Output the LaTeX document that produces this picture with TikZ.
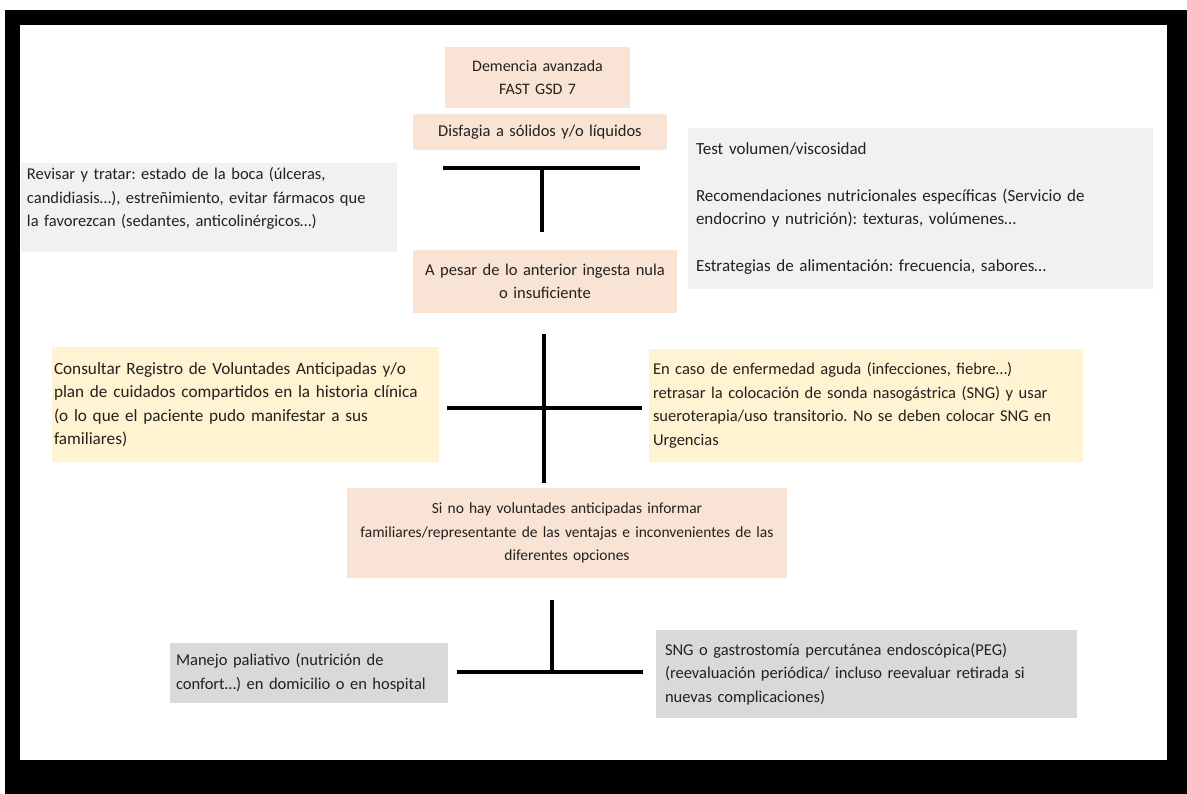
\documentclass[tikz,border=0pt]{standalone}
\usepackage{fontspec}
\setmainfont{Carlito}
\usepackage{tikz}
\usetikzlibrary{positioning,calc}
\definecolor{dmpeach}{HTML}{F9E3D5}
\definecolor{dmyellow}{HTML}{FFF3D1}
\definecolor{dmlight}{HTML}{F1F1F1}
\definecolor{dmgrey}{HTML}{D9D9D9}
\definecolor{dmink}{HTML}{24211F}
\newcommand\dmfs[1]{\fontsize{#1}{23.5}\selectfont}
\frenchspacing

\begin{document}
\begin{tikzpicture}[
  x=1pt,y=-1pt,
  font=\dmfs{16.5},
  base/.style={inner sep=6pt,text=dmink,anchor=center},
  paso/.style={base,fill=dmpeach,align=center},
  nota/.style={base,fill=dmlight,align=left},
  aviso/.style={base,fill=dmyellow,align=left},
  opcion/.style={base,fill=dmgrey,align=left},
  barra/.style={line width=3.6pt,draw=black},
]
\useasboundingbox (0,0) rectangle (1187,794);
\fill[white] (0,0) rectangle (1187,794);
\fill[black] (5,10) rectangle (1187,794);
\fill[white] (20,25) rectangle (1167,760);

\node[paso,font=\dmfs{16},minimum width=185,minimum height=61,text width=173] (dem) at (537.5,77.5)
  {Demencia avanzada\\FAST GSD 7};
\node[paso,minimum width=254,minimum height=36,text width=242] (disf) at (540,132)
  {Disfagia a sólidos y/o líquidos};
\node[nota,inner ysep=3pt,minimum width=376,minimum height=89,text width=364] (revisar) at (209,207.5)
  {Revisar y tratar: estado de la boca (úlceras,\\candidiasis…), estreñimiento, evitar fármacos que\\la favorezcan (sedantes, anticolinérgicos…)\\[-2.5pt]\mbox{}};
\node[nota,font=\dmfs{17},minimum width=465,minimum height=161,text width=449] (test) at (920.5,208.5)
  {Test volumen/viscosidad\\[23.5pt]Recomendaciones nutricionales específicas (Servicio de\\endocrino y nutrición): texturas, volúmenes…\\[23.5pt]Estrategias de alimentación: frecuencia, sabores…};
\node[paso,minimum width=264,minimum height=63,text width=252] (pesar) at (545,281.5)
  {A pesar de lo anterior ingesta nula\\o insuficiente};
\node[aviso,font=\dmfs{17.2},inner xsep=2pt,minimum width=387,minimum height=115,text width=383] (consultar) at (245.5,404.5)
  {Consultar Registro de Voluntades Anticipadas y/o\\plan de cuidados compartidos en la historia clínica\\(o lo que el paciente pudo manifestar a sus\\familiares)};
\node[aviso,inner xsep=4pt,minimum width=434,minimum height=113,text width=426] (aguda) at (866,405.5)
  {En caso de enfermedad aguda (infecciones, fiebre…)\\retrasar la colocación de sonda nasogástrica (SNG) y usar\\sueroterapia/uso transitorio. No se deben colocar SNG en\\Urgencias};
\node[paso,font=\dmfs{15.5},inner xsep=4pt,minimum width=440,minimum height=90,text width=432] (sinvol) at (567,533)
  {Si no hay voluntades anticipadas informar\\familiares/representante de las ventajas e inconvenientes de las\\diferentes opciones};
\node[opcion,minimum width=278,minimum height=60,text width=266] (manejo) at (309,673)
  {Manejo paliativo (nutrición de\\confort…) en domicilio o en hospital};
\node[opcion,inner xsep=9pt,minimum width=421,minimum height=88,text width=403] (sng) at (866.5,674)
  {SNG o gastrostomía percutánea endoscópica(PEG)\\(reevaluación periódica/ incluso reevaluar retirada si\\nuevas complicaciones)};

% barras
\coordinate (b1l) at (443,168);
\coordinate (b1r) at (640,168);
\coordinate (b1m) at (542,168);
\coordinate (b1d) at (542,232);
\draw[barra] (b1l) -- (b1r);
\draw[barra] (b1m) -- (b1d);

\coordinate (b2u) at (544,334);
\coordinate (b2d) at (544,483);
\coordinate (b2l) at (447,408);
\coordinate (b2r) at (642,408);
\draw[barra] (b2u) -- (b2d);
\draw[barra] (b2l) -- (b2r);

\coordinate (b3u) at (552,600);
\coordinate (b3m) at (552,672);
\coordinate (b3l) at (457,672);
\coordinate (b3r) at (643,672);
\draw[barra] (b3u) -- (b3m);
\draw[barra] (b3l) -- (b3r);

\end{tikzpicture}
\end{document}
